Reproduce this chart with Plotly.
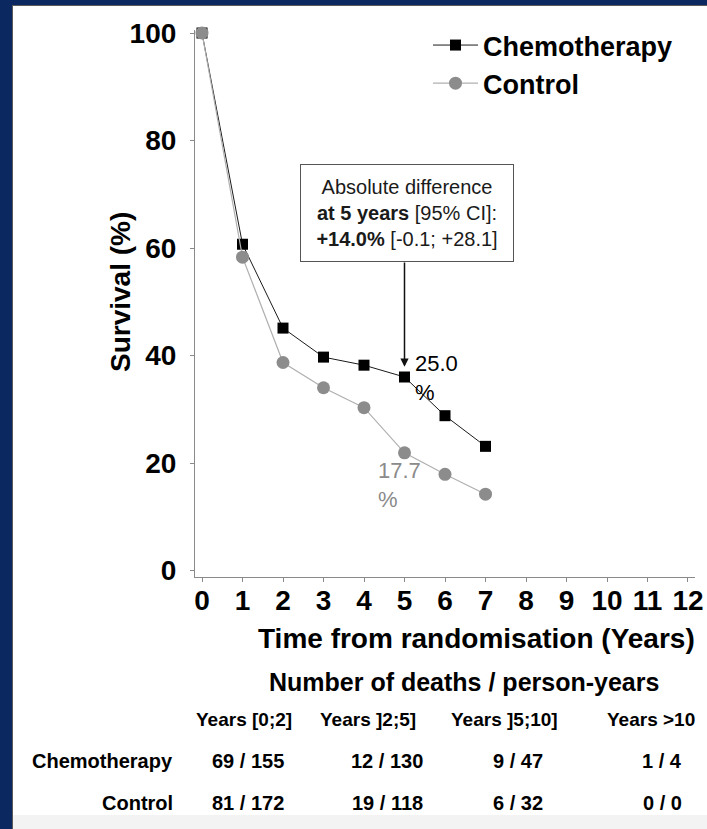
import plotly.graph_objects as go

# ---------------- data ----------------
years = [0, 1, 2, 3, 4, 5, 6, 7]
chemo_survival = [100, 60.7, 45.1, 39.7, 38.2, 36.0, 28.8, 23.1]
control_survival = [100, 58.3, 38.7, 34.0, 30.3, 21.9, 17.9, 14.2]
x_ticks = list(range(0, 13))
y_ticks = [0, 20, 40, 60, 80, 100]

table_title = "Number of deaths / person-years"
period_labels = ["Years [0;2]", "Years ]2;5]", "Years ]5;10]", "Years >10"]
row_labels = ["Chemotherapy", "Control"]
chemo_deaths = ["69 / 155", "12 / 130", "9 / 47", "1 / 4"]
control_deaths = ["81 / 172", "19 / 118", "6 / 32", "0 / 0"]

label_chemo_5y = "25.0<br>%"
label_control_5y = "17.7<br>%"
box_text = ("Absolute difference<br><b>at 5 years</b> [95% CI]:<br>"
            "<b>+14.0%</b> [-0.1; +28.1]")

# ---------------- layout geometry ----------------
W, H = 707, 829
ML, MR, MT, MB = 195, 12, 30, 252
PW = W - ML - MR
PH = H - MT - MB
FONT = "Liberation Sans, Arial, sans-serif"
NAVY = "#0b2860"


def px(xp):
    return (xp - ML) / PW


def py(yp):
    return (H - MB - yp) / PH


fig = go.Figure()
fig.add_trace(go.Scatter(
    x=years, y=chemo_survival, name="Chemotherapy", mode="lines+markers",
    line=dict(color="#1a1a1a", width=1),
    marker=dict(symbol="square", size=11, color="black"),
    cliponaxis=False,
))
fig.add_trace(go.Scatter(
    x=years, y=control_survival, name="Control", mode="lines+markers",
    line=dict(color="#b0b0b0", width=1.2),
    marker=dict(symbol="circle", size=13, color="#8c8c8c"),
    cliponaxis=False,
))


def ann(x, y, text, size, color="black", xanchor="center", yanchor="middle",
        ref="paper", **kw):
    d = dict(x=x, y=y, xref=ref if ref == "paper" else "x",
             yref=ref if ref == "paper" else "y", text=text, showarrow=False,
             xanchor=xanchor, yanchor=yanchor,
             font=dict(family=FONT, size=size, color=color))
    d.update(kw)
    return d


annotations = []
# box
annotations.append(ann(5.05, 66.6, box_text, 20, "#1a1a1a", ref="data",
                       align="center", bordercolor="#555", borderwidth=1,
                       borderpad=6, bgcolor="white", width=200, height=84))
# arrow from box to chemo point at 5 years
annotations.append(dict(
    x=years[5], y=chemo_survival[5] + 1.9, xref="x", yref="y",
    ax=years[5], ay=57.6, axref="x", ayref="y", text="",
    showarrow=True, arrowhead=2, arrowsize=1.1, arrowwidth=1.5,
    arrowcolor="#111",
))
annotations.append(ann(5.21, 35.9, label_chemo_5y, 22, "black", ref="data",
                       xanchor="left", align="left"))
annotations.append(ann(4.3, 15.9, label_control_5y, 22, "#8a8a8a", ref="data",
                       xanchor="left", align="left"))
# axis titles
annotations.append(ann(px(476), py(638), "<b>Time from randomisation (Years)</b>", 28))
annotations.append(ann(px(120), py(292), "<b>Survival (%)</b>", 28, textangle=-90))
# table
annotations.append(ann(px(464), py(682), "<b>" + table_title + "</b>", 25))
head_x = [244, 368, 504, 651]
val_x = [248, 387, 518, 662]
for hx, lab in zip(head_x, period_labels):
    annotations.append(ann(px(hx), py(719), "<b>" + lab + "</b>", 19))
for row_y, rlab, vals in zip([761, 803], row_labels, [chemo_deaths, control_deaths]):
    annotations.append(ann(px(175), py(row_y), "<b>" + rlab + "</b>", 20,
                           xanchor="right"))
    for vx, v in zip(val_x, vals):
        annotations.append(ann(px(vx), py(row_y), "<b>" + v + "</b>", 20))

shapes = [
    dict(type="rect", xref="paper", yref="paper", layer="below",
         x0=px(12.5), x1=px(W + 20), y0=py(H + 20), y1=py(5.5),
         fillcolor="white", line=dict(color="#5a5a5a", width=1)),
    dict(type="rect", xref="paper", yref="paper", layer="below",
         x0=px(13), x1=px(W + 20), y0=py(H + 20), y1=py(815),
         fillcolor="#f3f3f3", line=dict(width=0)),
]

fig.update_layout(
    width=W, height=H,
    margin=dict(l=ML, r=MR, t=MT, b=MB, autoexpand=False),
    paper_bgcolor=NAVY, plot_bgcolor="white",
    showlegend=True,
    legend=dict(
        x=px(428), y=py(21), xanchor="left", yanchor="top",
        font=dict(family=FONT, size=27, color="black", weight="bold"),
        bgcolor="rgba(0,0,0,0)", itemwidth=45, tracegroupgap=0,
    ),
    xaxis=dict(
        range=[-0.173, 12.173], tickvals=x_ticks, showgrid=False,
        zeroline=False, showline=True, linecolor="#8a8a8a", linewidth=1.2,
        ticks="outside", ticklen=4, tickcolor="#8a8a8a",
        tickfont=dict(family=FONT, size=28, color="black", weight="bold"),
        ticklabelstandoff=-6, ticklabeloverflow="allow", automargin=False,
    ),
    yaxis=dict(
        range=[-1.21, 100.56], tickvals=y_ticks, showgrid=False,
        zeroline=False, showline=True, linecolor="#8a8a8a", linewidth=1.2,
        ticks="outside", ticklen=4, tickcolor="#8a8a8a",
        tickfont=dict(family=FONT, size=28, color="black", weight="bold"),
        ticklabelstandoff=8, automargin=False,
    ),
    annotations=annotations,
    shapes=shapes,
)

fig.write_html("out.html",
               config={"displayModeBar": False},
               post_script="document.body.style.margin='0';"
                           "document.body.style.background='" + NAVY + "';")
